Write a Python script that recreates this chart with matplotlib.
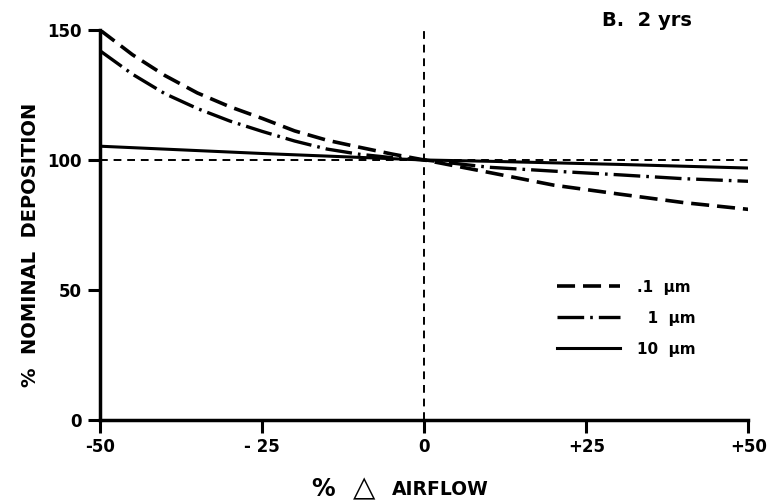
import numpy as np
import matplotlib
matplotlib.use('Agg')
import matplotlib.pyplot as plt

# 字体设置
plt.rcParams['font.family'] = ['DejaVu Sans']
plt.rcParams['font.weight'] = 'bold'

# 数据
x_01um = [-50, -45, -40, -35, -30, -25, -20, -15, -10, -5, 0, 10, 20, 30, 40, 50]
dep_01um = [150, 140.5, 132.5, 125.8, 120.5, 116, 111.2, 107.6, 104.9, 102.3, 100,
            95.2, 90.3, 86.9, 83.6, 81]
x_1um = [-50, -45, -40, -35, -30, -25, -20, -15, -10, -5, 0, 10, 20, 30, 40, 50]
dep_1um = [142, 133, 125.5, 119.8, 115, 111, 107.3, 104.2, 102.2, 100.9, 100,
           97.2, 95.7, 94.3, 92.8, 91.8]
x_10um = [-50, -25, 0, 10, 20, 30, 40, 50]
dep_10um = [105.3, 102.5, 100, 99.5, 98.9, 98.3, 97.6, 96.9]
series_labels = ['.1  µm', '\u20071  µm', '10  µm']
xticks = [-50, -25, 0, 25, 50]
xtick_labels = ['-50', '- 25', '0', '+25', '+50']
yticks = [0, 50, 100, 150]

fig = plt.figure(figsize=(7.7, 5.01), dpi=100)
ax = fig.add_axes([0.13, 0.162, 0.842, 0.778])

# 参考线
ax.axhline(100, color='black', lw=1.4, dashes=(4, 3), zorder=1)
ax.axvline(0, color='black', lw=1.4, dashes=(4, 3), zorder=1)

# 曲线
ax.plot(x_01um, dep_01um, color='black', lw=2.6, dashes=(5, 2.2), label=series_labels[0])
ax.plot(x_1um, dep_1um, color='black', lw=2.4, dashes=(8, 1.8, 0.8, 1.8), label=series_labels[1])
ax.plot(x_10um, dep_10um, color='black', lw=2.2, label=series_labels[2])

ax.set_xlim(-50, 50)
ax.set_ylim(0, 150)
ax.set_xticks(xticks)
ax.set_xticklabels(xtick_labels)
ax.set_yticks(yticks)

for s in ['top', 'right']:
    ax.spines[s].set_visible(False)
for s in ['left', 'bottom']:
    ax.spines[s].set_linewidth(2.5)
ax.tick_params(axis='both', direction='out', length=9, width=2.2, labelsize=12, pad=4)

ax.set_ylabel('%  NOMINAL  DEPOSITION', fontsize=14, fontweight='bold')
ax.yaxis.set_label_coords(-0.092, 0.45)

# x轴标题 (分段书写)
fig.text(0.419, 0.024, '%', fontsize=17, fontweight='bold', ha='center', va='center')
fig.text(0.473, 0.026, '\u25b3', fontsize=21, fontweight='normal', ha='center', va='center')
fig.text(0.509, 0.022, 'AIRFLOW', fontsize=13.5, fontweight='bold', ha='left', va='center')

fig.text(0.782, 0.96, 'B.  2 yrs', fontsize=14, fontweight='bold', ha='left', va='center')

leg = ax.legend(loc='upper left', bbox_to_anchor=(0.705, 0.36), frameon=False,
                borderpad=0, borderaxespad=0,
                handlelength=4.1, handletextpad=1.1, labelspacing=1.05,
                prop={'size': 11, 'weight': 'bold'})

fig.savefig('out.png', dpi=100)
